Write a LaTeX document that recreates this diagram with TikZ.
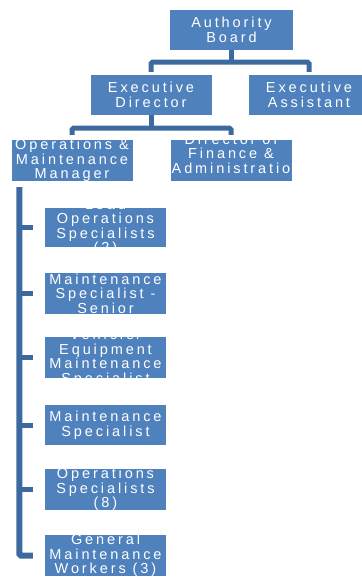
\documentclass[tikz,border=0pt]{standalone}
\usepackage{fontspec}
\newfontfamily\orgfont{Liberation Sans}[LetterSpace=20.0]
\definecolor{boxblue}{HTML}{4F81BD}
\definecolor{linkblue}{HTML}{3D6A9E}

\tikzset{
  unittext/.style={text=white, font=\orgfont\fontsize{14.5}{14.5}\selectfont, align=center, inner sep=0pt},
  unit/.style={fill=boxblue, minimum width=121pt, minimum height=41pt, inner sep=0pt,
    path picture={\node[unittext] at (path picture bounding box.center) {#1};}},
  link/.style={draw=linkblue, line width=5pt, rounded corners=1.5pt},
}

\begin{document}
\begin{tikzpicture}[x=1pt,y=-1pt]

    \useasboundingbox (0,0) rectangle (361,577);

    \node[unit={Authority\\Board}, minimum width=123pt, minimum height=40pt] (board) at (231.5,30) {};
    \node[unit={Executive\\Director}, minimum height=40pt] (ed) at (151,95) {};
    \node[unit={Executive\\Assistant}, minimum height=40pt] (ea) at (309,95) {};

    \node[unit={Operations \&\\Maintenance\\Manager}] (om) at (72,160.5) {};
    \node[unit={Director of\\Finance \&\\Administratio\\\mbox{}}] (fin) at (231,160.5) {};

    \node[unit={Lead\\Operations\\Specialists\\(2)}, minimum height=39pt] (lead) at (105.5,227) {};
    \node[unit={Maintenance\\Specialist -\\Senior}] (senior) at (105.5,293.5) {};
    \node[unit={Vehicle/\\Equipment\\Maintenance\\Specialist}] (veh) at (105.5,357.5) {};
    \node[unit={Maintenance\\Specialist}, minimum height=40pt] (maint) at (105.5,425) {};
    \node[unit={Operations\\Specialists\\(8)}] (ops) at (105.5,489.5) {};
    \node[unit={General\\Maintenance\\Workers (3)}] (gen) at (105.5,555.5) {};

    \coordinate (bj) at ([yshift=-12pt]board.south);
    \draw[link] (board.south) -- (bj);
    \draw[link] ([yshift=3pt]ed.north) |- (bj) -| ([yshift=3pt]ea.north);

    \coordinate (ej) at ([yshift=-13pt]ed.south);
    \draw[link] (ed.south) -- (ej);
    \draw[link] ([yshift=5pt]om.north) |- (ej) -| ([yshift=5pt]fin.north);

    \coordinate (spine) at ([xshift=8pt,yshift=-6pt]om.south west);
    \draw[link, line width=6pt] (spine) |- ([xshift=-12pt]gen.west);
    \foreach \n in {lead,senior,veh,maint,ops}
        \draw[link] (spine |- \n.west) -- ([xshift=-12pt]\n.west);

\end{tikzpicture}
\end{document}
